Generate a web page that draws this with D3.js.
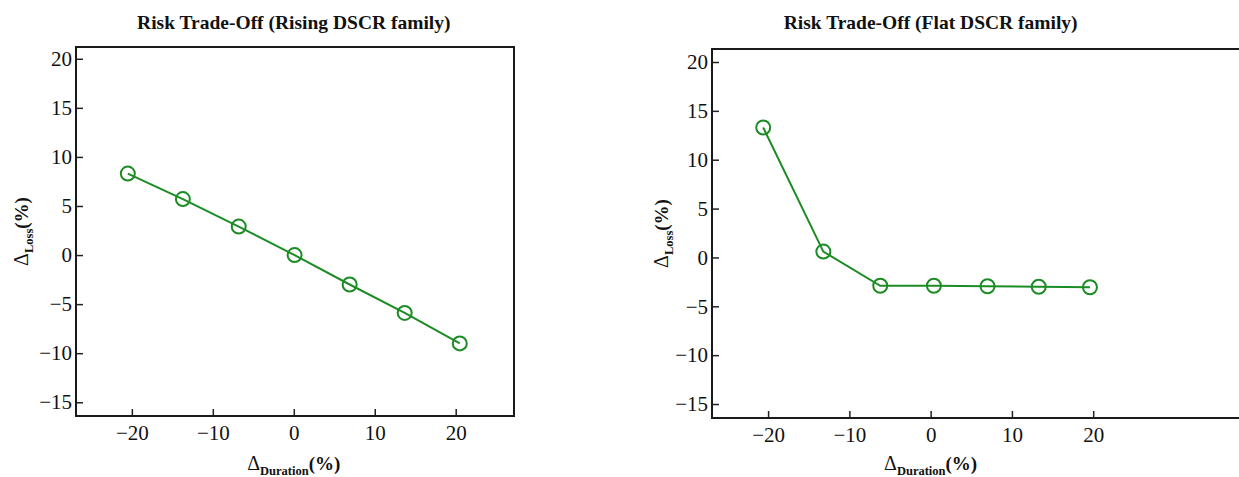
<!DOCTYPE html>
<html>
<head>
<meta charset="utf-8">
<script src="https://cdn.jsdelivr.net/npm/d3@7"></script>
<style>
  body { margin: 0; background: #fff; }
  svg { display: block; }
  .tick text { font-family: "Liberation Serif", "DejaVu Serif", serif; font-size: 21px; fill: #111; }
</style>
</head>
<body>
<svg id="chart"></svg>
<script>
var width = 1239;
var height = 477;

// Rising DSCR family
var risingDuration = [-20.5, -13.7, -6.8, 0.1, 6.9, 13.7, 20.5];
var risingLoss = [8.3, 5.7, 2.9, 0.0, -3.0, -5.9, -9.0];

// Flat DSCR family
var flatDuration = [-20.6, -13.2, -6.2, 0.4, 7.0, 13.3, 19.6];
var flatLoss = [13.3, 0.6, -2.9, -2.9, -2.95, -3.0, -3.05];

var tickValuesX = [-20, -10, 0, 10, 20];
var tickValuesY = [-15, -10, -5, 0, 5, 10, 15, 20];

var titles = ["Risk Trade-Off (Rising DSCR family)", "Risk Trade-Off (Flat DSCR family)"];

var green = "#1c8c24";

var svg = d3.select('#chart')
	.attr("width", width)
	.attr("height", height);

var panel = function(opts){
	var x = d3.scaleLinear().domain(opts.xDomain).range([opts.left, opts.right]);
	var y = d3.scaleLinear().domain(opts.yDomain).range([opts.bottom, opts.top]);

	var g = svg.append('g');

	// title, centred over x = 0
	g.append('text')
		.attr('x', x(0))
		.attr('y', 29)
		.attr('text-anchor', 'middle')
		.style('font-family', '"Liberation Serif", serif')
		.style('font-weight', 'bold')
		.style('font-size', '19.5px')
		.style('fill', '#111')
		.text(opts.title);

	// axes with ticks pointing inward
	g.append('g')
		.attr('transform', 'translate(' + opts.left + ',0)')
		.call(d3.axisLeft(y).tickValues(tickValuesY).tickSize(-7).tickPadding(4))
		.call(function(a){ a.select('.domain').remove(); })
		.selectAll('line').style('stroke', '#222').style('stroke-width', 1.5);

	g.append('g')
		.attr('transform', 'translate(0,' + opts.bottom + ')')
		.call(d3.axisBottom(x).tickValues(tickValuesX).tickSize(-7).tickPadding(9))
		.call(function(a){ a.select('.domain').remove(); })
		.selectAll('line').style('stroke', '#222').style('stroke-width', 1.5);

	// frame
	g.append('rect')
		.attr('x', opts.left)
		.attr('y', opts.top)
		.attr('width', opts.right - opts.left)
		.attr('height', opts.bottom - opts.top)
		.style('fill', 'none')
		.style('stroke', '#1a1a1a')
		.style('stroke-width', 2);

	var pts = opts.xs.map(function(v, i){ return { x: v, y: opts.ys[i] }; });

	var line = d3.line()
		.x(function(d){ return x(d.x); })
		.y(function(d){ return y(d.y); });

	g.append('path')
		.datum(pts)
		.attr('d', line)
		.style('fill', 'none')
		.style('stroke', green)
		.style('stroke-width', 2);

	g.selectAll('circle')
		.data(pts)
		.enter()
		.append('circle')
		.attr('cx', function(d){ return x(d.x); })
		.attr('cy', function(d){ return y(d.y); })
		.attr('r', 7)
		.style('fill', 'none')
		.style('stroke', green)
		.style('stroke-width', 2);

	// x label: Δ_Duration(%)
	var xl = g.append('text')
		.attr('x', x(0))
		.attr('y', 470)
		.attr('text-anchor', 'middle')
		.style('font-family', '"Liberation Serif", serif')
		.style('fill', '#111');
	xl.append('tspan').style('font-size', '20px').text('Δ');
	xl.append('tspan').attr('dy', 5).style('font-size', '12.5px').style('font-weight', 'bold').text('Duration');
	xl.append('tspan').attr('dy', -5).style('font-size', '19px').style('font-weight', 'bold').text('(%)');

	// y label: Δ_Loss(%)
	var yl = g.append('text')
		.attr('transform', 'translate(' + opts.yLabelX + ',' + (opts.top + opts.bottom) / 2 + ') rotate(-90)')
		.attr('text-anchor', 'middle')
		.style('font-family', '"Liberation Serif", serif')
		.style('fill', '#111');
	yl.append('tspan').style('font-size', '20px').text('Δ');
	yl.append('tspan').attr('dy', 5).style('font-size', '12.5px').style('font-weight', 'bold').text('Loss');
	yl.append('tspan').attr('dy', -5).style('font-size', '19px').style('font-weight', 'bold').text('(%)');
};

panel({
	title: titles[0],
	left: 76, right: 514, top: 47, bottom: 416,
	xDomain: [-26.9, 27.2], yDomain: [-16.4, 21.2],
	xs: risingDuration, ys: risingLoss,
	yLabelX: 28
});

panel({
	title: titles[1],
	left: 712, right: 1246, top: 49, bottom: 418,
	xDomain: [-26.9, 38.8], yDomain: [-16.43, 21.33],
	xs: flatDuration, ys: flatLoss,
	yLabelX: 668
});
</script>
</body>
</html>
